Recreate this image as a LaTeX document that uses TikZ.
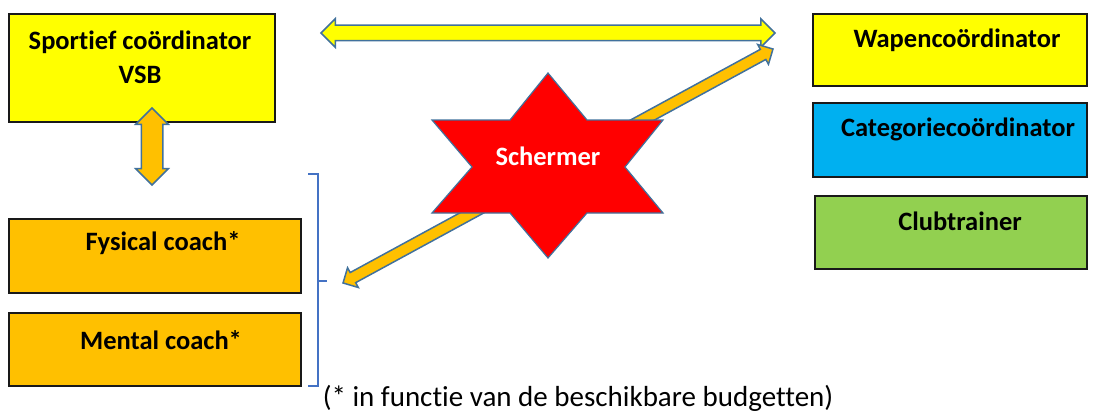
\documentclass[tikz,border=0pt]{standalone}
\usepackage{fontspec}
\setmainfont{Carlito}[Ligatures=NoCommon]
\usepackage{tikz}
\usetikzlibrary{arrows,shapes.arrows,calc,positioning}

\definecolor{vsbyellow}{HTML}{FFFF00}
\definecolor{vsborange}{HTML}{FFC000}
\definecolor{vsbblue}{HTML}{00B0F0}
\definecolor{vsbgreen}{HTML}{92D050}
\definecolor{vsbred}{HTML}{FF0000}
\definecolor{arrowline}{HTML}{41719C}
\definecolor{bracketline}{HTML}{4472C4}

\newcommand{\blockarrow}[5]{%
	\path let \p1=($(#2)-(#1)$), \n1={veclen(\x1,\y1)}, \n2={atan2(\y1,\x1)} in
		node[double arrow, draw=arrowline, fill=#3, line width=1.5pt, inner xsep=0pt, inner ysep=#4, minimum width=0pt, minimum height=\n1, double arrow head extend=#5, rotate=\n2] at ($(#1)!0.5!(#2)$) {};
}

\begin{document}
\begin{tikzpicture}[x=1pt, y=-1pt,
		box/.style={draw=black!90, line width=1.5pt, inner sep=0pt},
		boxtext/.style={font=\bfseries\fontsize{26.5}{34}\selectfont, align=center, inner sep=0pt},
		notetext/.style={font=\fontsize{29}{35}\selectfont, inner sep=0pt}]
			\useasboundingbox (0, 0) rectangle (1096, 412);

			\node[box, fill=vsbyellow, minimum width=266, minimum height=108] (sport) at (142, 68) {};
			\node[boxtext] (sportlbl) at (140, 57) {Sportief coördinator\\VSB};
			\node[box, fill=vsborange, minimum width=292, minimum height=74] (fysical) at (155, 256) {};
			\node[boxtext] (fysicallbl) at (163, 243) {Fysical coach*};
			\node[box, fill=vsborange, minimum width=292, minimum height=73] (mental) at (155, 349.5) {};
			\node[boxtext] (mentallbl) at (161, 340) {Mental coach*};

			\node[box, fill=vsbyellow, minimum width=274, minimum height=72] (wapen) at (950, 50) {};
			\node[boxtext] (wapenlbl) at (957, 40) {Wapencoördinator};
			\node[box, fill=vsbblue, minimum width=274, minimum height=74] (categorie) at (950, 140) {};
			\node[boxtext] (categorielbl) at (958, 129) {Categoriecoördinator};
			\node[box, fill=vsbgreen, minimum width=272, minimum height=73] (club) at (951, 232.5) {};
			\node[boxtext] (clublbl) at (960, 221) {Clubtrainer};

			\coordinate (vtop) at (152, 108);
			\coordinate (vbottom) at (152, 185);
			\coordinate (hleft) at (321, 33);
			\coordinate (hright) at (775, 33);
			\coordinate (dleft) at (343, 283);
			\coordinate (dright) at (773, 49);

			\blockarrow{vtop}{vbottom}{vsborange}{10pt}{5.5pt}
			\blockarrow{hleft}{hright}{vsbyellow}{7pt}{6.5pt}
			\blockarrow{dleft}{dright}{vsborange}{5pt}{5.5pt}

			\draw[arrowline, line width=1.2pt, fill=vsbred] (548, 73) -- (587, 120) -- (663, 120) -- (625, 167) -- (663, 213) -- (587, 213) -- (548, 258) -- (510, 213) -- (432, 213) -- (472, 167) -- (432, 120) -- (510, 120) -- cycle;
			\node[boxtext, text=white] (schermer) at (548, 156) {Schermer};

			\draw[bracketline, line width=1.3pt] (308, 174) -- (318, 174) -- (318, 386) -- (308, 386);
			\draw[bracketline, line width=1.3pt] (318, 281) -- (327, 281);

			\node[notetext] (note) at (578, 398) {(* in functie van de beschikbare budgetten)};
		\end{tikzpicture}
\end{document}
